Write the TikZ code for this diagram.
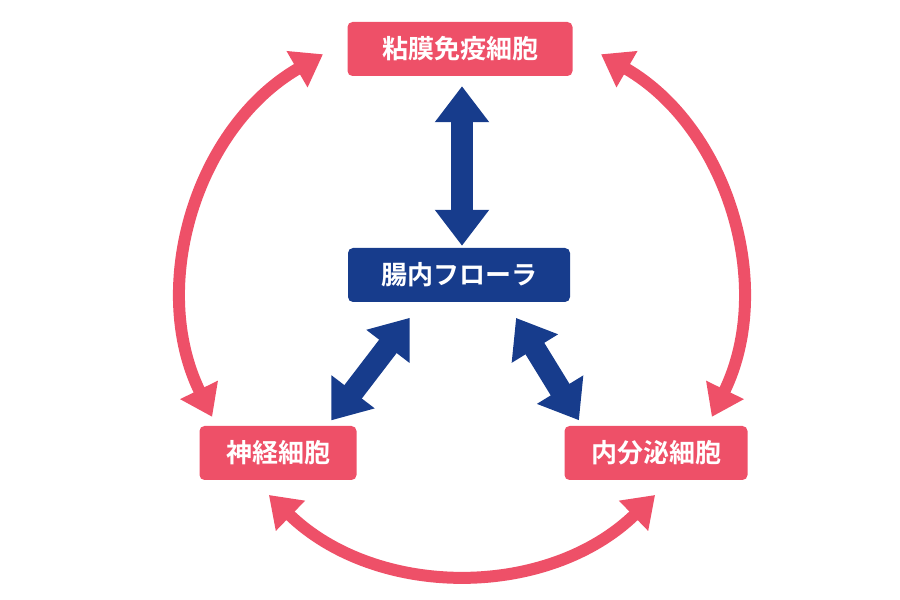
\documentclass[tikz,border=0pt]{standalone}
\usepackage{fontspec}
\newfontfamily\cjk{Noto Sans CJK JP}[BoldFont={Noto Sans CJK JP Bold}]
\usetikzlibrary{arrows.meta}
\definecolor{pinkc}{HTML}{EE5068}
\definecolor{bluec}{HTML}{173C8C}
\tikzset{
  box/.style={rounded corners=5pt, text=white, inner sep=0pt, minimum height=54pt,
    font=\cjk\bfseries\fontsize{26}{30}\selectfont},
  pinkbox/.style={box, fill=pinkc},
  bluebox/.style={box, fill=bluec},
  pinkarrow/.style={pinkc, line width=12pt, {Triangle[width=40pt,length=30pt]}-{Triangle[width=40pt,length=30pt]}},
  bluearrow/.style={bluec, line width=22pt, {Triangle[width=52pt,length=36pt]}-{Triangle[width=52pt,length=36pt]}, shorten <=2pt, shorten >=2pt}
}
\begin{document}
\begin{tikzpicture}[x=1pt,y=1pt]
  \useasboundingbox (0,0) rectangle (900,600);
  \node[pinkbox, minimum width=225pt] (immune) at (460,551) {粘膜免疫細胞};
  \node[bluebox, minimum width=222pt] (flora) at (459,325) {腸内フローラ};
  \node[pinkbox, minimum width=157pt] (nerve) at (278,147) {神経細胞};
  \node[pinkbox, minimum width=183pt] (endo) at (656,147) {内分泌細胞};
  % blue arrows
  \draw[bluearrow] (immune.south) ++(2,-8) coordinate (a1) -- (a1 |- flora.north);
  \draw[bluearrow] (flora.south) ++(-48,-14) coordinate (b1) -- (330,178);
  \draw[bluearrow] (flora.south) ++(56,-14) coordinate (c1) -- (580,178);
  % pink arcs
  \coordinate (ctr) at (462,305);
  \draw[pinkarrow] ([shift={(206:278)}]ctr) arc[start angle=206, end angle=120, radius=278];
  \draw[pinkarrow] ([shift={(60:278)}]ctr) arc[start angle=60, end angle=-26, radius=278];
  \draw[pinkarrow] ([shift={(226:278)}]ctr) arc[start angle=226, end angle=314, radius=278];
\end{tikzpicture}
\end{document}
